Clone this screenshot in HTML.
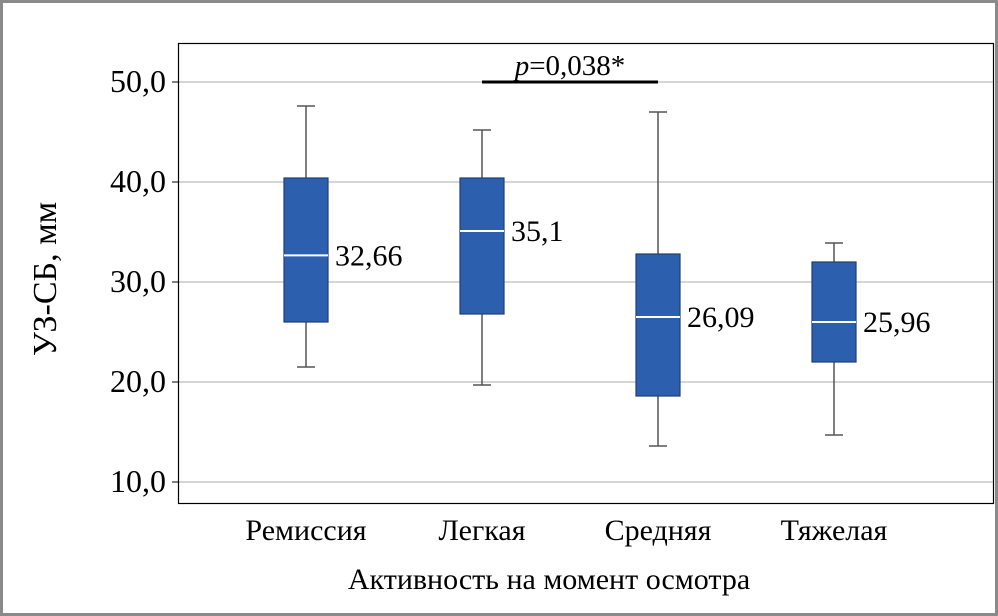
<!DOCTYPE html>
<html><head><meta charset="utf-8"><style>
body{margin:0;background:#fff}
svg{display:block;font-family:"Liberation Serif",serif}
</style></head><body>
<svg width="998" height="616" viewBox="0 0 998 616">
<rect x="1.5" y="1.5" width="995" height="613" fill="#fff" stroke="#8a8a8a" stroke-width="3"/>
<g id="grid"></g>
<rect x="178.5" y="43.5" width="815" height="460" fill="none" stroke="#000" stroke-width="1.2"/>
<g id="marks"></g>
<text x="56" y="279" font-size="34" text-anchor="middle" transform="rotate(-90 56 279)">УЗ-СБ, мм</text>
<text x="549" y="589" font-size="30" text-anchor="middle">Активность на момент осмотра</text>
</svg>
<script>
const categories=["Ремиссия","Легкая","Средняя","Тяжелая"];
const whiskerHigh=[47.6,45.2,47.0,33.9];
const q3=[40.4,40.4,32.8,32.0];
const medians=[32.66,35.1,26.5,26.0];
const q1=[26.0,26.8,18.6,22.0];
const whiskerLow=[21.5,19.7,13.6,14.7];
const medianLabels=["32,66","35,1","26,09","25,96"];
const yTicks=[10,20,30,40,50];
const yTickLabels=["10,0","20,0","30,0","40,0","50,0"];
const pText="=0,038*";
const NS="http://www.w3.org/2000/svg";
const y=v=>482-(v-10)*10;
const x=i=>306+i*176;
function mk(tag,attrs,parent){const e=document.createElementNS(NS,tag);for(const k in attrs)e.setAttribute(k,attrs[k]);parent.appendChild(e);return e;}
const grid=document.getElementById('grid'),marks=document.getElementById('marks');
yTicks.forEach((t,i)=>{
 const l=mk('line',{x1:178,x2:993,y1:y(t),y2:y(t),stroke:'#c8c8c8','stroke-width':1.5},grid);
 
 
 const tk=mk('line',{x1:172,x2:178,y1:y(t),y2:y(t),stroke:'#000'},grid);
 
 
 const tx=mk('text',{x:166,y:y(t)+10,'font-size':32,'text-anchor':'end'},grid);
 tx.textContent=yTickLabels[i];
 
 
});
categories.forEach((c,i)=>{
 const cx=x(i),w=44;
 const g=mk('g',{},marks);
 
 
 mk('line',{x1:cx,x2:cx,y1:y(whiskerHigh[i]),y2:y(q3[i]),stroke:'#555','stroke-width':1.5},g);
 mk('line',{x1:cx,x2:cx,y1:y(q1[i]),y2:y(whiskerLow[i]),stroke:'#555','stroke-width':1.5},g);
 mk('line',{x1:cx-9,x2:cx+9,y1:y(whiskerHigh[i]),y2:y(whiskerHigh[i]),stroke:'#555','stroke-width':1.5},g);
 mk('line',{x1:cx-9,x2:cx+9,y1:y(whiskerLow[i]),y2:y(whiskerLow[i]),stroke:'#555','stroke-width':1.5},g);
 mk('rect',{x:cx-w/2,y:y(q3[i]),width:w,height:y(q1[i])-y(q3[i]),fill:'#2c5fad',stroke:'#1e3f73','stroke-width':1.2},g);
 mk('line',{x1:cx-w/2,x2:cx+w/2,y1:y(medians[i]),y2:y(medians[i]),stroke:'#fff','stroke-width':2},g);
 const ml=mk('text',{x:cx+w/2+7,y:y(medians[i])+10,'font-size':30},marks);
 ml.textContent=medianLabels[i];
 
 
 const cl=mk('text',{x:cx,y:540,'font-size':30,'text-anchor':'middle'},marks);
 cl.textContent=c;
 
 
});
const br=mk('line',{x1:x(1),x2:x(2),y1:y(50),y2:y(50),stroke:'#000','stroke-width':3},marks);


const pt=mk('text',{x:(x(1)+x(2))/2,y:75,'font-size':29,'text-anchor':'middle'},marks);
pt.innerHTML='<tspan font-style="italic">p</tspan>'+pText;


</script>
</body></html>
